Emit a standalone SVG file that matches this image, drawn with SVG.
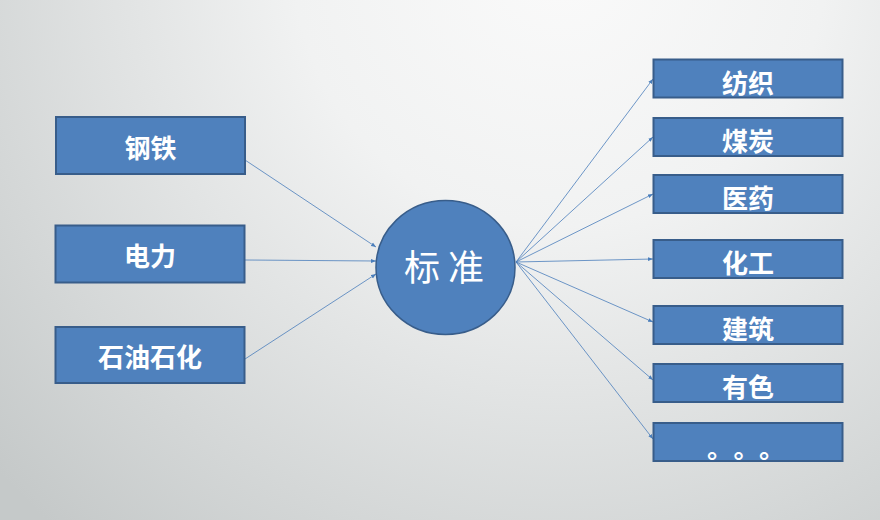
<svg xmlns="http://www.w3.org/2000/svg" width="880" height="520" viewBox="0 0 880 520">
<defs>
<radialGradient id="bg" gradientUnits="userSpaceOnUse" cx="560" cy="-40" r="760">
<stop offset="0" stop-color="#fafafa"/>
<stop offset="0.35" stop-color="#f1f2f2"/>
<stop offset="1" stop-color="#c5c9c9"/>
</radialGradient>
<marker id="ah" viewBox="0 0 10 10" refX="10" refY="5" markerWidth="5" markerHeight="5" markerUnits="userSpaceOnUse" orient="auto">
<path d="M0,1 L10,5 L0,9 z" fill="#4a7ebb"/>
</marker>
<style>
.box{fill:#4f81bd;stroke:#385d8a;stroke-width:2}
.lbl{font-family:"Noto Sans CJK SC","Noto Sans CJK TC",sans-serif;font-weight:bold;font-size:26px;fill:#ffffff;text-anchor:middle;dominant-baseline:central}
.ctr{font-family:"Noto Sans CJK SC",sans-serif;font-weight:normal;font-size:36px;fill:#ffffff;text-anchor:middle;dominant-baseline:central}
.con{stroke:#4a7ebb;stroke-width:0.8;fill:none;marker-end:url(#ah)}
.dots{font-family:"Noto Sans CJK SC",sans-serif;font-weight:bold;font-size:26px;fill:#ffffff}
</style>
</defs>
<rect x="0" y="0" width="880" height="520" fill="url(#bg)"/>
<g id="connectors">
<line class="con" x1="245" y1="160" x2="376" y2="247"/>
<line class="con" x1="245" y1="260" x2="376" y2="261"/>
<line class="con" x1="245" y1="359" x2="376" y2="274"/>
<line class="con" x1="516" y1="262" x2="653" y2="79"/>
<line class="con" x1="516" y1="262" x2="653" y2="137"/>
<line class="con" x1="516" y1="262" x2="653" y2="194"/>
<line class="con" x1="516" y1="262" x2="653" y2="259"/>
<line class="con" x1="516" y1="262" x2="653" y2="322"/>
<line class="con" x1="516" y1="262" x2="653" y2="380"/>
<line class="con" x1="516" y1="262" x2="653" y2="439"/>
</g>
<g id="n-gangtie"><rect class="box" x="56" y="117" width="189" height="57"/><text class="lbl" x="150.5" y="146">钢铁</text></g>
<g id="n-dianli"><rect class="box" x="55.5" y="225.5" width="189" height="57"/><text class="lbl" x="150" y="254">电力</text></g>
<g id="n-shiyou"><rect class="box" x="55.5" y="327" width="189" height="56"/><text class="lbl" x="150" y="355.5">石油石化</text></g>
<g id="n-biaozhun"><ellipse cx="445.5" cy="267.5" rx="69.5" ry="67" fill="#4f81bd" stroke="#385d8a" stroke-width="1.5"/><text class="ctr" x="444" y="265">标 准</text></g>
<g id="n-fangzhi"><rect class="box" x="653.5" y="59.5" width="189" height="38"/><text class="lbl" x="748" y="81">纺织</text></g>
<g id="n-meitan"><rect class="box" x="653.5" y="118" width="189" height="38"/><text class="lbl" x="748" y="139.5">煤炭</text></g>
<g id="n-yiyao"><rect class="box" x="653.5" y="175" width="189" height="38"/><text class="lbl" x="748" y="196.5">医药</text></g>
<g id="n-huagong"><rect class="box" x="653.5" y="240" width="189" height="38"/><text class="lbl" x="748" y="261.5">化工</text></g>
<g id="n-jianzhu"><rect class="box" x="653.5" y="306" width="189" height="38"/><text class="lbl" x="748" y="327.5">建筑</text></g>
<g id="n-youse"><rect class="box" x="653.5" y="364" width="189" height="38"/><text class="lbl" x="748" y="385.5">有色</text></g>
<g id="n-more"><rect class="box" x="653.5" y="423" width="189" height="38"/><text class="dots" x="707 733.5 759" y="458">。。。</text></g>
</svg>
